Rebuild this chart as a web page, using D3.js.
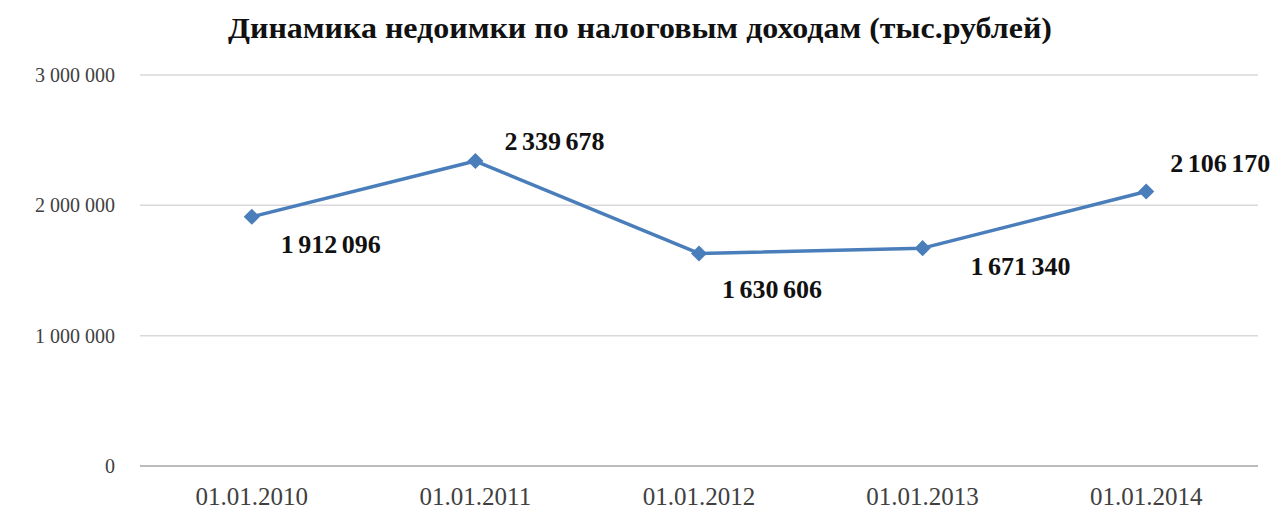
<!DOCTYPE html>
<head>
  <meta charset="UTF-8">
  <title>chart</title>
  <style>
  body, html, svg{
    padding: 0;
    margin: 0;
  }
  body{
    background: #fff;
  }
  text{
    font-family: "Liberation Serif", "Times New Roman", serif;
  }
  </style>
</head>
<body>
  <script src="https://cdn.jsdelivr.net/npm/d3@7"></script>
  <script type="text/javascript">
  var width = 1281;
  var height = 509;

  // данные
  var title = 'Динамика недоимки по налоговым доходам (тыс.рублей)';
  var categories = ['01.01.2010', '01.01.2011', '01.01.2012', '01.01.2013', '01.01.2014'];
  var values = [1912096, 2339678, 1630606, 1671340, 2106170];
  var yTicks = [0, 1000000, 2000000, 3000000];

  var margin = {left: 140, right: 23, top: 75, bottom: 43};

  var svg = d3.select('body')
    .append('svg')
    .attr('width', width)
    .attr('height', height);

  var x = d3.scaleBand()
    .domain(categories)
    .range([margin.left, width - margin.right]);

  var y = d3.scaleLinear()
    .domain([0, 3000000])
    .range([height - margin.bottom, margin.top]);

  var fmt = function(v){
    return d3.format(',')(v).replace(/,/g, ' ');
  };

  //сетка
  svg.append('g')
    .selectAll('line')
    .data(yTicks)
    .enter()
    .append('line')
    .attr('x1', margin.left)
    .attr('x2', width - margin.right)
    .attr('y1', function(d){ return y(d); })
    .attr('y2', function(d){ return y(d); })
    .attr('stroke', function(d){ return d === 0 ? '#a6a6a6' : '#d9d9d9'; })
    .attr('stroke-width', 1.5);

  //ось Y
  var yAxis = svg.append('g')
    .attr('transform', 'translate(' + (margin.left - 22) + ',0)')
    .call(d3.axisLeft(y).tickValues(yTicks).tickSize(0).tickFormat(fmt));
  yAxis.select('.domain').remove();
  yAxis.selectAll('text')
    .attr('font-size', 20)
    .attr('fill', '#404040');

  //ось X
  var xAxis = svg.append('g')
    .attr('transform', 'translate(0,' + (height - margin.bottom) + ')')
    .call(d3.axisBottom(x).tickSize(0).tickPadding(21));
  xAxis.select('.domain').remove();
  xAxis.selectAll('text')
    .attr('font-size', 25)
    .attr('fill', '#404040');

  //линия
  var cx = function(d, i){ return x(categories[i]) + x.bandwidth() / 2; };
  var line = d3.line()
    .x(cx)
    .y(function(d){ return y(d); });

  svg.append('path')
    .datum(values)
    .attr('d', line)
    .attr('fill', 'none')
    .attr('stroke', '#4a7ebb')
    .attr('stroke-width', 3.5)
    .attr('stroke-linejoin', 'round');

  svg.append('g')
    .selectAll('path')
    .data(values)
    .enter()
    .append('path')
    .attr('d', d3.symbol().type(d3.symbolSquare).size(130))
    .attr('transform', function(d, i){
      return 'translate(' + cx(d, i) + ',' + y(d) + ') rotate(45)';
    })
    .attr('fill', '#4a7ebb');

  //подписи
  var offsets = [[29, 36], [29, -11], [23, 45], [48, 27], [24, -19]];
  svg.append('g')
    .selectAll('text')
    .data(values)
    .enter()
    .append('text')
    .attr('x', function(d, i){ return cx(d, i) + offsets[i][0]; })
    .attr('y', function(d, i){ return y(d) + offsets[i][1]; })
    .attr('font-size', 26)
    .attr('font-weight', 'bold')
    .attr('fill', '#111')
    .attr('word-spacing', -2)
    .text(fmt);

  //заголовок
  svg.append('text')
    .attr('x', 640)
    .attr('y', 38)
    .attr('text-anchor', 'middle')
    .attr('font-size', 30)
    .attr('font-weight', 'bold')
    .attr('fill', '#111')
    .attr('textLength', 824)
    .attr('lengthAdjust', 'spacingAndGlyphs')
    .text(title);
  </script>
</body>
</html>
